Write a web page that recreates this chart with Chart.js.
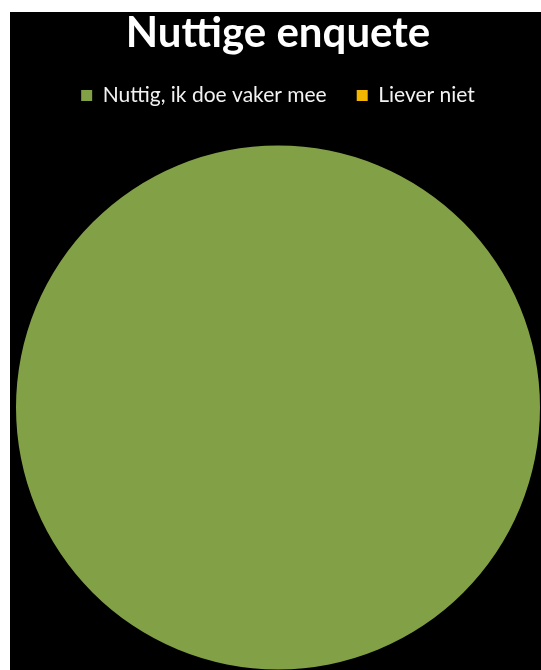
<!DOCTYPE html>
<html>
<head>
<meta charset="utf-8">
<script src="https://cdn.jsdelivr.net/npm/chart.js@4/dist/chart.umd.min.js"></script>
<style>
    html, body { margin: 0; padding: 0; background: #ffffff; }
    #wrap { position: absolute; left: 10px; top: 12px; width: 531px; height: 658px; background: #000000; }
</style>
</head>
<body>
<div id="wrap"><canvas id="pieChart"></canvas></div>
<script>
// Chart data
const categories = ['Nuttig, ik doe vaker mee', 'Liever niet'];
const answers = [100, 0];
const sliceColors = ['#82a046', '#f2b500'];

// Extra room under the legend, like the original
const legendSpacer = {
    id: 'legendSpacer',
    beforeInit(chart) {
        const fit = chart.legend.fit;
        chart.legend.fit = function () {
            fit.bind(chart.legend)();
            this.height += 29;
        };
    }
};

const ctx = document.getElementById('pieChart').getContext('2d');
const chart = new Chart(ctx, {
    type: 'pie',
    data: {
        labels: categories,
        datasets: [{
            data: answers,
            backgroundColor: sliceColors,
            borderWidth: 0
        }]
    },
    options: {
        responsive: true,
        maintainAspectRatio: false,
        animation: false,
        layout: { padding: { left: 6, right: 1, top: 0, bottom: 0 } },
        plugins: {
            title: {
                display: true,
                text: 'Nuttige enquete',
                color: '#ffffff',
                font: { family: 'Lato', size: 42, weight: 'bold', lineHeight: 1 },
                padding: { top: 0, bottom: 1 }
            },
            legend: {
                position: 'top',
                labels: {
                    color: '#f2f2f2',
                    font: { family: 'Lato', size: 21 },
                    boxWidth: 11,
                    boxHeight: 11,
                    padding: 30
                }
            },
            tooltip: { enabled: false }
        }
    },
    plugins: [legendSpacer]
});
</script>
</body>
</html>
